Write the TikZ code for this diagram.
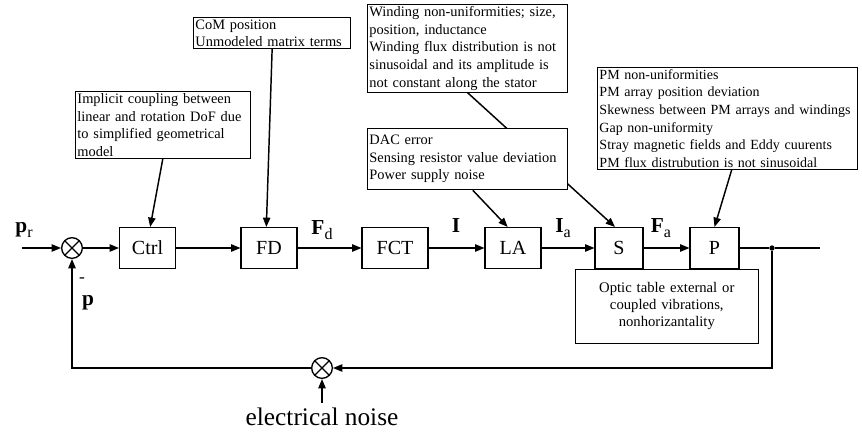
\documentclass[tikz,border=0pt]{standalone}
\usepackage{fontspec}
\setmainfont{Liberation Serif}
\usetikzlibrary{positioning,arrows.meta}

\newcommand{\sig}[2]{\textbf{#1}\raisebox{-4pt}{\fontsize{12}{12}\selectfont #2}}

\begin{document}
\begin{tikzpicture}[x=0.75pt, y=-0.75pt,
        block/.style={rectangle, draw=black, line width=0.8pt, fill=white, minimum width=42pt, minimum height=30.75pt, font=\fontsize{15}{18}\selectfont},
        note/.style={rectangle, draw=black, line width=0.7pt, fill=white, anchor=north west, align=left, inner sep=1.5pt, font=\fontsize{10.8}{13.2}\selectfont},
        sum/.style={circle, draw=black, line width=1pt, minimum size=15.5pt, inner sep=0pt, path picture={\draw[line width=1pt] (path picture bounding box.north west) -- (path picture bounding box.south east) (path picture bounding box.north east) -- (path picture bounding box.south west);}},
        sig/.style={font=\fontsize{16}{18}\selectfont},
        arr/.style={line width=1.1pt, -{Triangle[length=7pt, width=5.5pt]}},
        wire/.style={line width=1.1pt}
    ]
        \useasboundingbox (0,0) rectangle (862,435);
        \clip (0,0) rectangle (862,435);

        % Forward path
        \coordinate (in) at (22,248);
        \node[sum] (sum1) at (72,248) {};
        \node[block] (ctrl) at (147.5,248) {Ctrl};
        \node[block] (fd) at (269,248) {FD};
        \node[block, minimum width=49.5pt] (fct) at (395,248) {FCT};
        \node[block] (la) at (513,248) {LA};
        \node[block, minimum width=36pt] (s) at (619,248) {S};
        \node[block, minimum width=36.75pt] (p) at (714.5,248) {P};
        \node[circle, fill=black, inner sep=0pt, minimum size=4pt] (branch) at (772,248) {};
        \coordinate (out) at (820,248);

        \draw[arr] (in) -- (sum1);
        \draw[arr] (sum1) -- (ctrl);
        \draw[arr] (ctrl) -- (fd);
        \draw[arr] (fd) -- (fct);
        \draw[arr] (fct) -- (la);
        \draw[arr] (la) -- (s);
        \draw[arr] (s) -- (p);
        \draw[wire] (p) -- (branch) -- (out);

        % Signal labels
        \node[sig] (pr) at (24,230) {\sig{p}{r}};
        \node[sig] (fdlbl) at (322,230) {\sig{F}{d}};
        \node[sig] (ilbl) at (456,226) {\textbf{I}};
        \node[sig] (ialbl) at (563,228) {\sig{I}{a}};
        \node[sig] (falbl) at (661,228) {\sig{F}{a}};
        \node[font=\fontsize{13}{13}\selectfont] (minus) at (82,280) {-};
        \node[sig] (pfb) at (88,303) {\textbf{p}};

        % Feedback
        \node[sum] (sum2) at (322,368) {};
        \coordinate (fbr) at (772,368);
        \coordinate (fbl) at (72,368);
        \draw[arr] (branch) -- (fbr) -- (sum2);
        \draw[arr] (sum2) -- (fbl) -- (sum1);
        \coordinate (noise) at (322,403);
        \draw[arr] (noise) -- (sum2);
        \node[font=\fontsize{19}{22}\selectfont, below=0pt of noise] (noiselbl) {electrical noise};

        % Disturbance notes
        \node[note, text width=128pt] (implicit) at (75,91) {Implicit coupling between\\linear and rotation DoF due\\to simplified geometrical\\model};
        \draw[arr] (implicit.south) -- ([xshift=2pt]ctrl.north);

        \node[note, text width=115pt] (com) at (193,17) {CoM position\\Unmodeled matrix terms};
        \draw[arr] (com.south) -- ([xshift=-2pt]fd.north);

        \node[note, text width=147pt] (winding) at (367,4) {Winding non-uniformities; size,\\position, inductance\\Winding flux distribution is not\\sinusoidal and its amplitude is\\not constant along the stator};
        \draw[arr] (winding.south) -- ([xshift=-3pt]s.north);

        \node[note, text width=147pt, minimum height=46pt] (dac) at (367,128) {DAC error\\Sensing resistor value deviation\\Power supply noise};
        \draw[arr] ([xshift=4pt]dac.south) -- ([xshift=-4pt]la.north);

        \node[note, text width=192pt, font=\fontsize{10.5}{13.2}\selectfont] (pm) at (597,67) {PM non-uniformities\\PM array position deviation\\Skewness between PM arrays and windings\\Gap non-uniformity\\Stray magnetic fields and Eddy cuurents\\PM flux distrubution is not sinusoidal};
        \draw[arr] ([xshift=101pt]pm.south west) -- (p.north);

        \node[note, align=center, text width=134pt, minimum height=55.5pt, font=\fontsize{11}{13}\selectfont] (optic) at (575,268.5) {Optic table external or\\coupled vibrations,\\nonhorizantality};
    \end{tikzpicture}
\end{document}
